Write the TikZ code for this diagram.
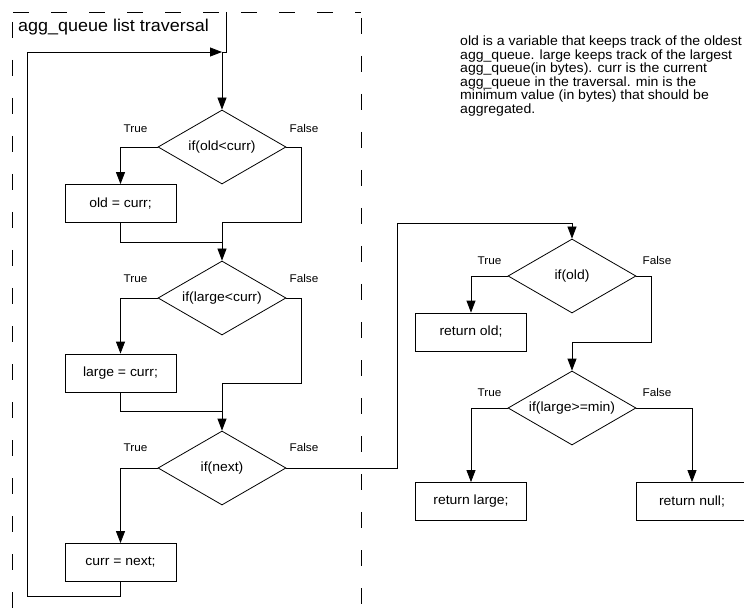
\documentclass[tikz,border=0pt]{standalone}
\usepackage{fontspec}
\setmainfont{Liberation Sans}[FakeStretch=1.05]
\usetikzlibrary{shapes.geometric, arrows.meta, positioning}

\begin{document}
\begin{tikzpicture}[
    x=1pt, y=-1pt,
    test/.style={diamond, draw, line width=0.8pt, minimum width=128pt, minimum height=74pt,
                 aspect=1.73, inner sep=0pt, font=\fontsize{13.3}{15}\selectfont},
    stmt/.style={rectangle, draw, line width=0.8pt, minimum width=111pt, minimum height=38pt,
                 inner sep=0pt, font=\fontsize{13.3}{15}\selectfont},
    lbl/.style={inner sep=0pt, font=\fontsize{11.2}{13}\selectfont},
    wire/.style={line width=0.8pt},
    arrow/.style={-{Triangle[length=12pt, width=9pt]}, line width=0.8pt},
    frame/.style={line width=0.8pt, dash pattern=on 16pt off 22pt}
]
\clip (0,0) rectangle (744,612);

\draw[frame] (13,12) -- (361,12);
\draw[frame] (12,22) -- (12,620);
\draw[frame] (361,18) -- (361,620);
\node[anchor=base west, inner sep=0pt, font=\fontsize{17.1}{19}\selectfont] (title) at (18,32) {agg\_queue list traversal};

\node[test] (testold) at (222,147) {if(old<curr)};
\node[stmt] (setold) at (120.5,203.5) {old = curr;};
\node[test] (testlarge) at (222,298) {if(large<curr)};
\node[stmt] (setlarge) at (120.5,373) {large = curr;};
\node[test] (testnext) at (222,468) {if(next)};
\node[stmt] (setcurr) at (120.5,562.5) {curr = next;};

\node[test] (hasold) at (572,276) {if(old)};
\node[stmt] (retold) at (471,332) {return old;};
\node[test] (testmin) at (572,408) {if(large>=min)};
\node[stmt] (retlarge) at (471,501.5) {return large;};
\node[stmt] (retnull) at (692,501.5) {return null;};

\node[lbl, above left=14pt and 10pt of testold.west] {True};
\node[lbl, above right=14pt and 3pt of testold.east] {False};
\node[lbl, above left=15pt and 10pt of testlarge.west] {True};
\node[lbl, above right=15pt and 3pt of testlarge.east] {False};
\node[lbl, above left=16pt and 10pt of testnext.west] {True};
\node[lbl, above right=16pt and 3pt of testnext.east] {False};
\node[lbl, above left=11pt and 6pt of hasold.west] {True};
\node[lbl, above right=11pt and 6pt of hasold.east] {False};
\node[lbl, above left=11pt and 6pt of testmin.west] {True};
\node[lbl, above right=11pt and 6pt of testmin.east] {False};

\node[anchor=north west, inner sep=0pt, align=left, font=\fontsize{13.4}{12}\selectfont] (note) at (460,36)
  {old is a variable that keeps track of the oldest\\
   agg\_queue. large keeps track of the largest\\
   agg\_queue(in bytes). curr is the current\\
   agg\_queue in the traversal. min is the\\
   minimum value (in bytes) that should be\\
   aggregated.};

\coordinate (entry) at (226,12);
\coordinate (join1) at (222,52);
\coordinate (loopc) at (27,596);
\coordinate (f1) at (301,222);
\coordinate (m1) at (222,242);
\coordinate (f2) at (301,383);
\coordinate (m2) at (222,411);
\coordinate (f3) at (397,223);
\coordinate (f4) at (651,342);

\draw[wire] (entry) |- (join1);
\draw[arrow] (join1) -- (testold);
\draw[arrow] (testold.west) -| (setold.north);
\draw[arrow] (testold.east) -| (f1) -| (testlarge.north);
\draw[wire] (setold.south) |- (m1);
\draw[arrow] (testlarge.west) -| (setlarge.north);
\draw[arrow] (testlarge.east) -| (f2) -| (testnext.north);
\draw[wire] (setlarge.south) |- (m2);
\draw[arrow] (testnext.west) -| (setcurr.north);
\draw[arrow] (setcurr.south) |- (loopc) |- (join1);
\draw[arrow] (testnext.east) -| (f3) -| (hasold.north);
\draw[arrow] (hasold.west) -| (retold.north);
\draw[arrow] (hasold.east) -| (f4) -| (testmin.north);
\draw[arrow] (testmin.west) -| (retlarge.north);
\draw[arrow] (testmin.east) -| (retnull.north);
\end{tikzpicture}
\end{document}
